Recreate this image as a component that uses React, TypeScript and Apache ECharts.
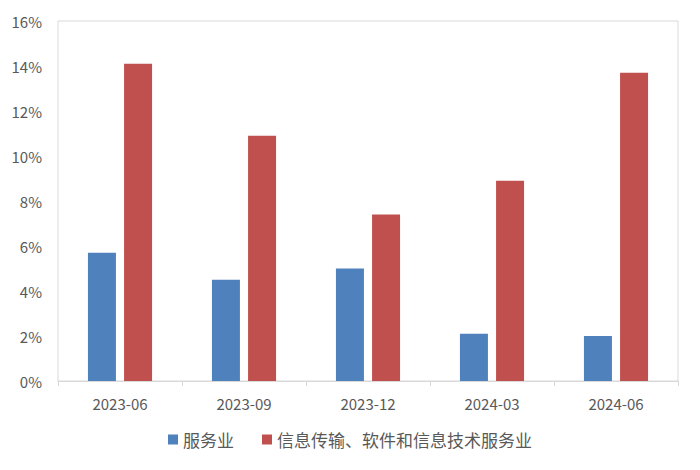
import { useEffect, useRef } from 'react';
import * as echarts from 'echarts';

const categories = ['2023-06', '2023-09', '2023-12', '2024-03', '2024-06'];
const serviceValues = [5.7, 4.5, 5.0, 2.1, 2.0];
const itValues = [14.1, 10.9, 7.4, 8.9, 13.7];
const seriesNames = ['服务业', '信息传输、软件和信息技术服务业'];

const FONT = '"Noto Sans CJK SC", "Microsoft YaHei", sans-serif';
const TEXT = '#595959';
const LINE = '#d9d9d9';

const App = () => {
    const chartRef = useRef<HTMLDivElement>(null);

    useEffect(() => {
        if (!chartRef.current) return;
        const chart = echarts.init(chartRef.current, undefined, { renderer: 'svg' });

        chart.setOption({
            animation: false,
            backgroundColor: '#ffffff',
            textStyle: { fontFamily: FONT },
            grid: {
                left: 58,
                right: 22,
                top: 21,
                bottom: 89,
                show: true,
                borderColor: LINE,
                borderWidth: 1
            },
            legend: {
                data: seriesNames,
                bottom: 17,
                left: 'center',
                itemWidth: 10,
                itemHeight: 10,
                itemGap: 28,
                icon: 'rect',
                textStyle: { color: TEXT, fontSize: 17, fontFamily: FONT }
            },
            xAxis: {
                type: 'category',
                data: categories,
                axisLine: { lineStyle: { color: LINE } },
                axisTick: { show: true, length: 5, lineStyle: { color: LINE } },
                axisLabel: { color: TEXT, fontSize: 15, margin: 15, fontFamily: FONT }
            },
            yAxis: {
                type: 'value',
                min: 0,
                max: 16,
                interval: 2,
                axisLine: { show: false },
                axisTick: { show: false },
                splitLine: { show: false },
                axisLabel: {
                    color: TEXT,
                    fontSize: 15,
                    margin: 16,
                    fontFamily: FONT,
                    formatter: (v: number) => v + '%'
                }
            },
            series: [
                {
                    name: seriesNames[0],
                    type: 'bar',
                    data: serviceValues,
                    barWidth: 28,
                    barGap: '29%',
                    itemStyle: { color: '#4f81bd' }
                },
                {
                    name: seriesNames[1],
                    type: 'bar',
                    data: itValues,
                    barWidth: 28,
                    barGap: '29%',
                    itemStyle: { color: '#c0504d' }
                }
            ]
        });

        return () => {
            chart.dispose();
        };
    }, []);

    return <div ref={chartRef} style={{ width: 700, height: 470, margin: -8 }} />;
};

export default App;
